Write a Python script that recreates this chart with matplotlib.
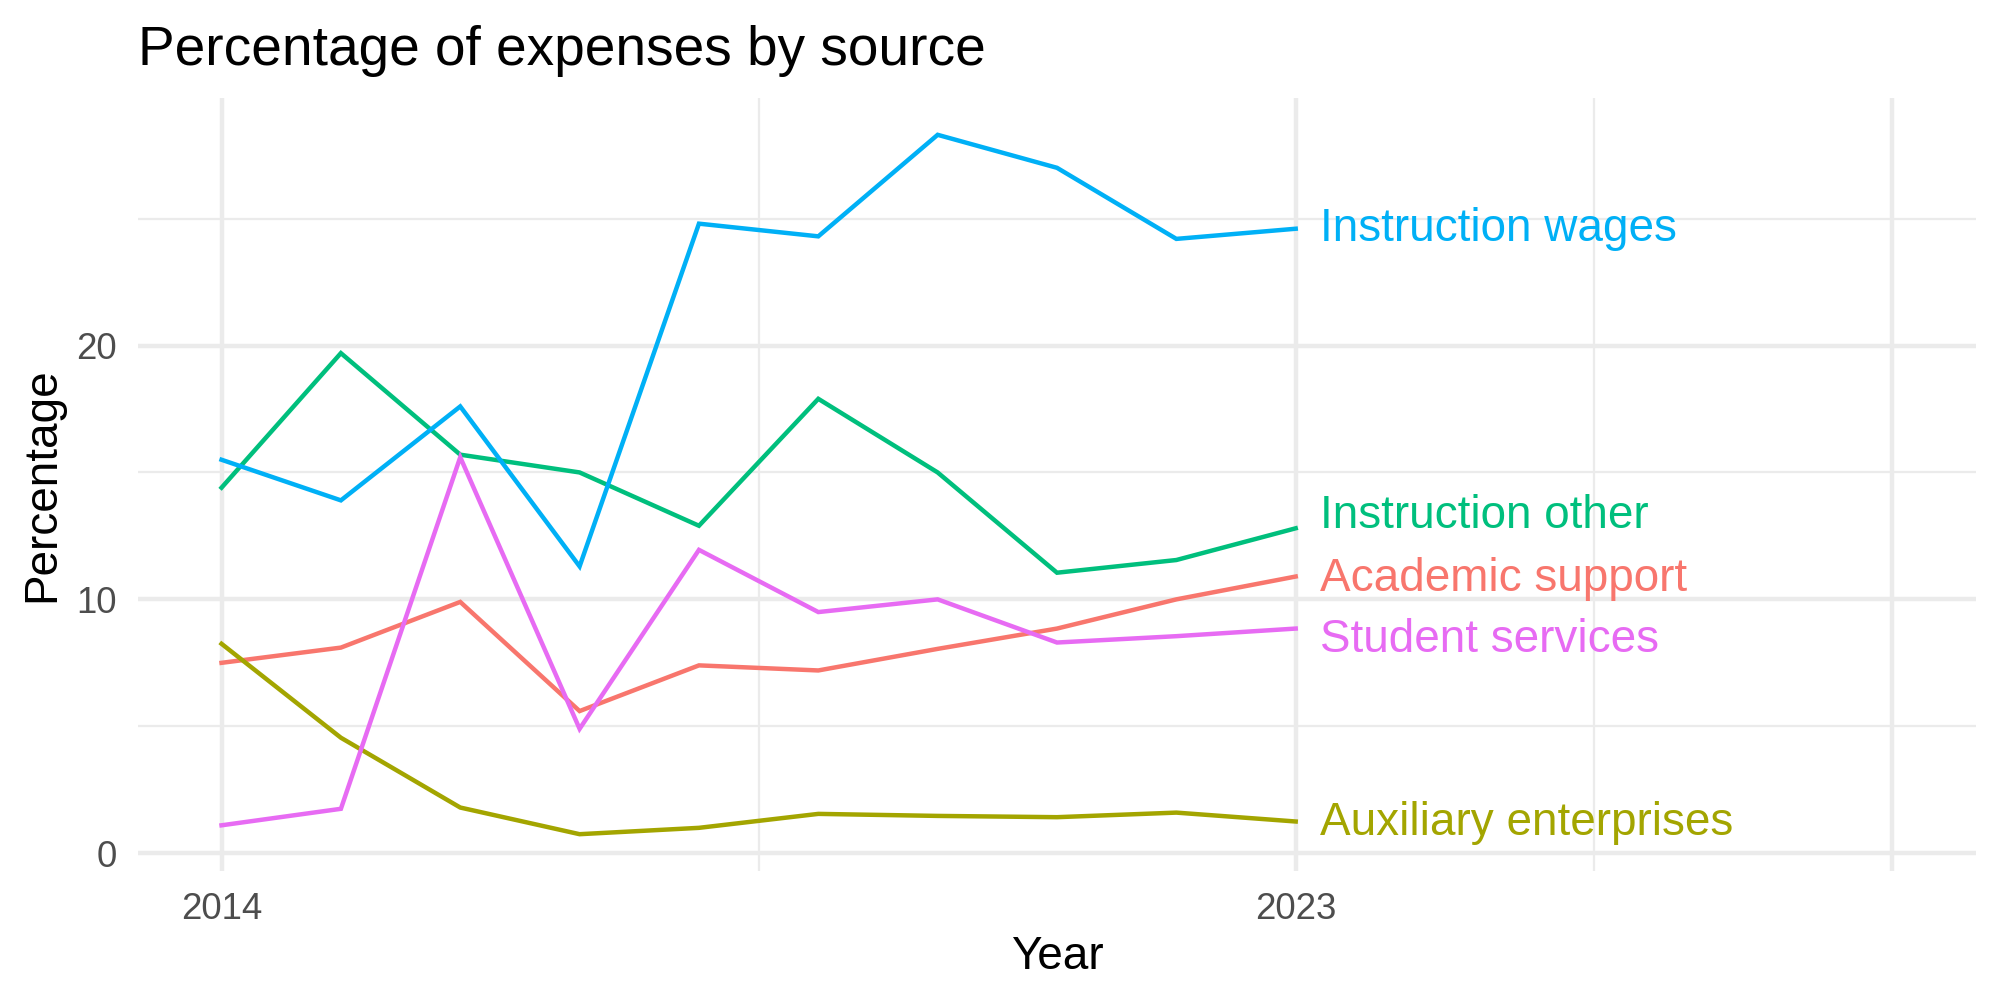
import matplotlib.pyplot as plt
from matplotlib.ticker import FixedLocator, NullFormatter

plt.rcParams['font.family'] = ['Liberation Sans', 'DejaVu Sans']

years = [2014, 2015, 2016, 2017, 2018, 2019, 2020, 2021, 2022, 2023]

academic_support = [7.5, 8.1, 9.9, 5.6, 7.4, 7.2, 8.05, 8.85, 10.0, 10.9]
auxiliary_enterprises = [8.25, 4.55, 1.8, 0.75, 1.0, 1.55, 1.47, 1.42, 1.6, 1.25]
instruction_other = [14.4, 19.7, 15.7, 15.0, 12.9, 17.9, 15.0, 11.05, 11.55, 12.8]
instruction_wages = [15.5, 13.9, 17.6, 11.3, 24.8, 24.3, 28.3, 27.0, 24.2, 24.6]
student_services = [1.1, 1.75, 15.6, 4.9, 11.95, 9.5, 10.0, 8.3, 8.55, 8.85]

series = {
    'Academic support': academic_support,
    'Auxiliary enterprises': auxiliary_enterprises,
    'Instruction other': instruction_other,
    'Instruction wages': instruction_wages,
    'Student services': student_services,
}
colors = ['#F8766D', '#A3A500', '#00BF7D', '#00B0F6', '#E76BF3']

# labels were nudged apart so they don't collide
label_nudge = {
    'Academic support': -0.1,
    'Auxiliary enterprises': -0.05,
    'Instruction other': 0.5,
    'Instruction wages': 0.0,
    'Student services': -0.45,
}

fig = plt.figure(figsize=(20 / 3, 10 / 3), dpi=300)
ax = fig.add_axes([0.069, 0.129, 0.919, 0.773])

for (name, vals), c in zip(series.items(), colors):
    ax.plot(years, vals, color=c, lw=1.07, solid_joinstyle='miter', zorder=3)
    ax.text(years[-1] + 0.2, vals[-1] + label_nudge[name], name, color=c,
            fontsize=11.0, ha='left', va='center', zorder=4)

ax.set_xlim(2013.3, 2028.7)
ax.set_ylim(-0.7, 29.75)

ax.xaxis.set_major_locator(FixedLocator([2014, 2023, 2028]))
ax.set_xticklabels(['2014', '2023', ''])
ax.xaxis.set_minor_locator(FixedLocator([2018.5, 2025.5]))
ax.yaxis.set_major_locator(FixedLocator([0, 10, 20]))
ax.yaxis.set_minor_locator(FixedLocator([5, 15, 25]))
ax.xaxis.set_minor_formatter(NullFormatter())
ax.yaxis.set_minor_formatter(NullFormatter())

ax.grid(True, which='major', color='#EBEBEB', lw=1.07)
ax.grid(True, which='minor', color='#EBEBEB', lw=0.53)
ax.set_axisbelow(True)
for s in ax.spines.values():
    s.set_visible(False)
ax.tick_params(which='both', length=0)
ax.tick_params(axis='x', pad=5, labelsize=8.8, labelcolor='#4D4D4D')
ax.tick_params(axis='y', pad=5, labelsize=8.8, labelcolor='#4D4D4D')

ax.set_xlabel('Year', fontsize=11, labelpad=2)
ax.set_ylabel('Percentage', fontsize=11, labelpad=3)
ax.set_title('Percentage of expenses by source', fontsize=13.2, loc='left', pad=8)

fig.savefig('out.png', dpi=300)
